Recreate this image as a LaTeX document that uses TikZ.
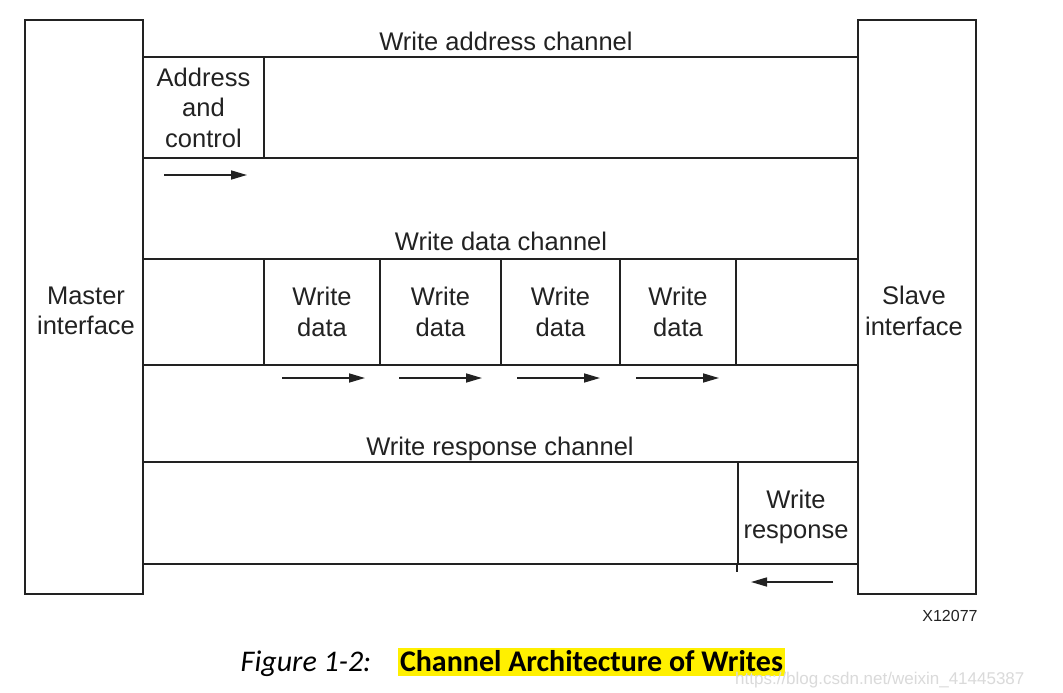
\documentclass[tikz,border=0pt]{standalone}
\usepackage{fontspec}
\setmainfont{Liberation Sans}
\newfontfamily\capfont{Carlito}
\usetikzlibrary{arrows.meta}
\definecolor{ink}{HTML}{222222}
\definecolor{hl}{HTML}{FFF000}
\definecolor{wm}{HTML}{DADADA}
\begin{document}
\begin{tikzpicture}[x=1pt,y=-1pt,
  ln/.style={draw=ink, line width=2.4pt},
  box/.style={ln, rectangle, inner sep=0pt, align=center, text=ink,
    font=\fontsize{25.5}{30.5}\selectfont},
  lbl/.style={text=ink, inner sep=0pt, align=center, font=\fontsize{25.5}{30.5}\selectfont},
  flow/.style={draw=ink, line width=1.6pt, -{Triangle[length=16pt,width=9pt]}}]
\useasboundingbox (0,0) rectangle (1063,693);
\fill[white] (0,0) rectangle (1063,693);

% interfaces
\node[box, minimum width=118pt, minimum height=574pt] (master) at (84,307) {};
\node[box, minimum width=118pt, minimum height=574pt] (slave) at (917,307) {};
\node[lbl] (mtext) at (master.center) [yshift=-4pt, xshift=2pt] {Master\\interface};
\node[lbl] (stext) at (slave.center) [yshift=-4pt, xshift=-3pt] {Slave\\interface};

% channel bands
\node[box, minimum width=715pt, minimum height=101pt] (addrrow) at (500.5,107.5) {};
\node[box, minimum width=715pt, minimum height=106pt] (datarow) at (500.5,312) {};
\node[box, minimum width=715pt, minimum height=102pt] (resprow) at (500.5,513) {};

% cells
\node[box, minimum width=121pt, minimum height=101pt] (addr) at (203.5,107.5) {Address\\and\\control};
\node[box, minimum width=116pt, minimum height=106pt] (d1) at (322,312) {Write\\data};
\node[box, minimum width=121pt, minimum height=106pt] (d2) at (440.5,312) {Write\\data};
\node[box, minimum width=119pt, minimum height=106pt] (d3) at (560.5,312) {Write\\data};
\node[box, minimum width=116pt, minimum height=106pt] (d4) at (678,312) {Write\\data};
\node[box, minimum width=120pt, minimum height=102pt] (resp) at (798,513) {};
\node[lbl] (resptext) at (resp.center) [yshift=-4pt, xshift=-2pt] {Write\\response};
\draw[ln] (resp.south west) -- ++(0,7);

% channel labels
\node[lbl] (la) at (506,41) {Write address channel};
\node[lbl] (ld) at (501,241) {Write data channel};
\node[lbl] (lr) at (500,449) {Write response channel};

% arrows
\coordinate (a0s) at (164,175); \coordinate (a0e) at (247,175);
\coordinate (a1s) at (282,378); \coordinate (a1e) at (365,378);
\coordinate (a2s) at (399,378); \coordinate (a2e) at (482,378);
\coordinate (a3s) at (517,378); \coordinate (a3e) at (600,378);
\coordinate (a4s) at (636,378); \coordinate (a4e) at (719,378);
\coordinate (a5s) at (833,582); \coordinate (a5e) at (751,582);
\foreach \i in {0,...,5} {\draw[flow] (a\i s) -- (a\i e);}

% figure id
\node[text=ink, inner sep=0pt, font=\fontsize{16}{19}\selectfont] (fid) at (950,616) {X12077};

% caption
\node[fill=hl, minimum width=387pt, minimum height=28pt, inner sep=0pt] (hlbox) at (591.5,662) {};
\node[inner sep=0pt, font=\capfont\bfseries\fontsize{30}{34}\selectfont] (cap) at (591.5,661) {Channel Architecture of Writes};
\node[inner sep=0pt, font=\capfont\itshape\fontsize{30}{34}\selectfont] (fig) at (306,664) {Figure 1-2:};

% watermark
\node[text=wm, inner sep=0pt, anchor=west, font=\fontsize{17}{20}\selectfont] (wmk) at (735,680) {https://blog.csdn.net/weixin\_41445387};
\end{tikzpicture}
\end{document}
